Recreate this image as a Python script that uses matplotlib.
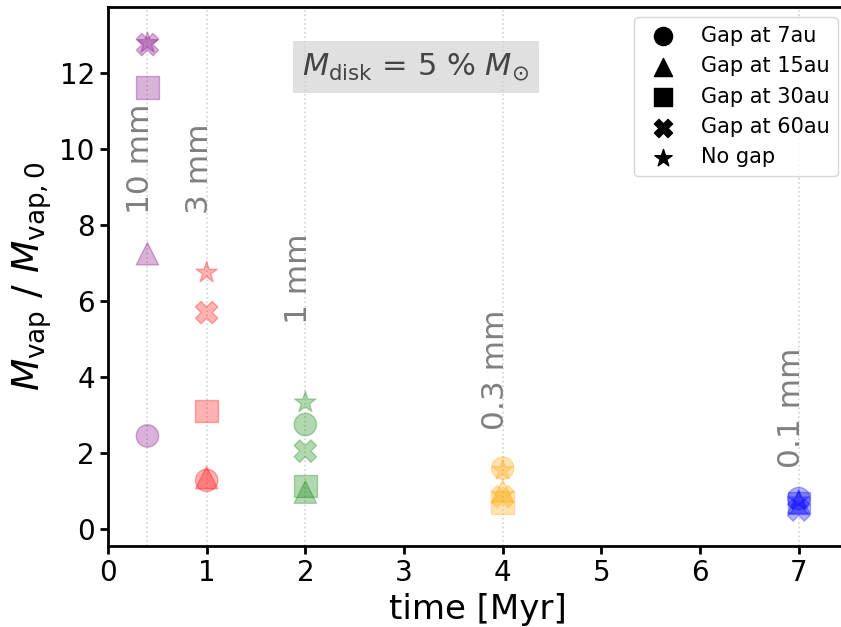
"""
Vapour mass relative to initial value vs time, for several grain sizes and gap positions.
"""

import matplotlib
matplotlib.use("Agg")
import matplotlib.pyplot as plt

# grain sizes, the time at which each one is sampled and the colour used
sizes = ["10 mm", "3 mm", "1 mm", "0.3 mm", "0.1 mm"]
times = [0.4, 1, 2, 4, 7]
colors = ["purple", "red", "green", "orange", "blue"]
label_y = [8.3, 8.3, 5.4, 2.6, 1.6]

# M_vap / M_vap,0 for each gap case, one value per grain size
gap_labels = ["Gap at 7au", "Gap at 15au", "Gap at 30au", "Gap at 60au", "No gap"]
markers = ["o", "^", "s", "X", "*"]
gap7 = [2.45, 1.28, 2.75, 1.60, 0.80]
gap15 = [7.25, 1.35, 0.97, 1.00, 0.70]
gap30 = [11.63, 3.10, 1.13, 0.70, 0.68]
gap60 = [12.76, 5.70, 2.05, 0.85, 0.50]
nogap = [12.80, 6.75, 3.33, 1.55, 0.75]
values = [gap7, gap15, gap30, gap60, nogap]

fig = plt.figure(figsize=(8.41, 6.27), dpi=100)
# the axes run a little past the right edge of the figure (cropped original)
ax = fig.add_axes([0.1284, 0.1292, 0.880, 0.8596])

for t in times:
    ax.axvline(t, color="lightgrey", ls=":", lw=1.2, zorder=0)

for vals, m in zip(values, markers):
    ax.scatter(times, vals, c=colors, marker=m, s=260, alpha=0.3)

for t, name, y in zip(times, sizes, label_y):
    ax.text(t - 0.07, y, name, rotation=90, ha="center", va="bottom",
            color="grey", fontsize=22.5)

# legend entries drawn in black
for lab, m in zip(gap_labels, markers):
    ax.scatter([], [], c="k", marker=m, s=170, label=lab)
ax.legend(loc="upper right", fontsize=15)

ax.text(3.12, 12.17, r"$M_{\rm disk}$ = 5 % $M_{\odot}$", ha="center", va="center",
        fontsize=22, color="#444444",
        bbox=dict(facecolor="lightgrey", edgecolor="none", alpha=0.7, pad=7))

ax.set_xlim(0, 7.5)
ax.set_ylim(-0.45, 13.75)
ax.set_xlabel("time [Myr]", fontsize=24.5)
ax.set_ylabel(r"$M_{\rm vap}$ / $M_{\rm vap,0}$", fontsize=27)
ax.tick_params(labelsize=20, width=2, length=6)
for sp in ax.spines.values():
    sp.set_linewidth(2)

fig.savefig("out.png", dpi=100)
